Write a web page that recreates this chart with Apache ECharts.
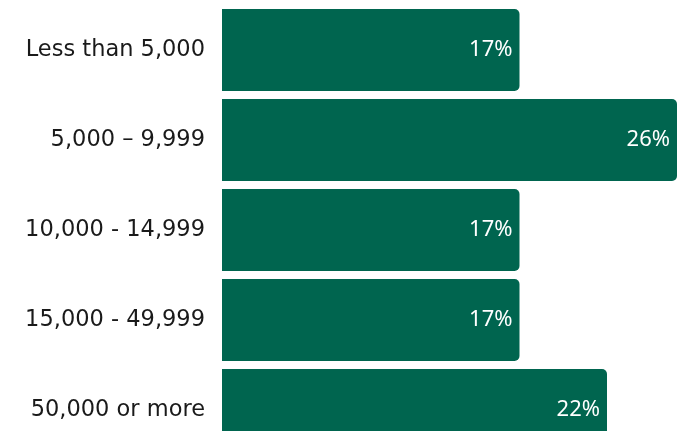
<!DOCTYPE html>
<html>
<head>
<meta charset="utf-8">
<script src="https://cdn.jsdelivr.net/npm/echarts@6/dist/echarts.min.js"></script>
<style>
  html, body { margin: 0; padding: 0; background: #fff; }
  #chart { width: 683px; height: 431px; }
</style>
</head>
<body>
<div id="chart"></div>
<script>
const categories = ["Less than 5,000", "5,000 – 9,999", "10,000 - 14,999", "15,000 - 49,999", "50,000 or more"];
const shares = [17, 26, 17, 17, 22];

const myChart = echarts.init(document.getElementById("chart"));
const option = {
  animation: false,
  grid: {
    left: 222,
    right: 6,
    top: 5,
    height: 450,
    outerBoundsMode: "none",
  },
  xAxis: {
    type: "value",
    min: 0,
    max: 26,
    show: false,
  },
  yAxis: {
    type: "category",
    inverse: true,
    data: categories,
    axisLine: { show: false },
    axisTick: { show: false },
    axisLabel: {
      margin: 17,
      color: "#1a1a1a",
      fontSize: 22.5,
      fontFamily: "DejaVu Sans",
    },
  },
  series: [
    {
      type: "bar",
      data: shares,
      barWidth: 82,
      itemStyle: {
        color: "#00654f",
        borderRadius: [0, 5, 5, 0],
      },
      label: {
        show: true,
        position: "insideRight",
        distance: 7,
        color: "#ffffff",
        fontSize: 22,
        fontFamily: "Noto Sans",
        formatter: "{c}%",
      },
    },
  ],
};
myChart.setOption(option);
</script>
</body>
</html>
